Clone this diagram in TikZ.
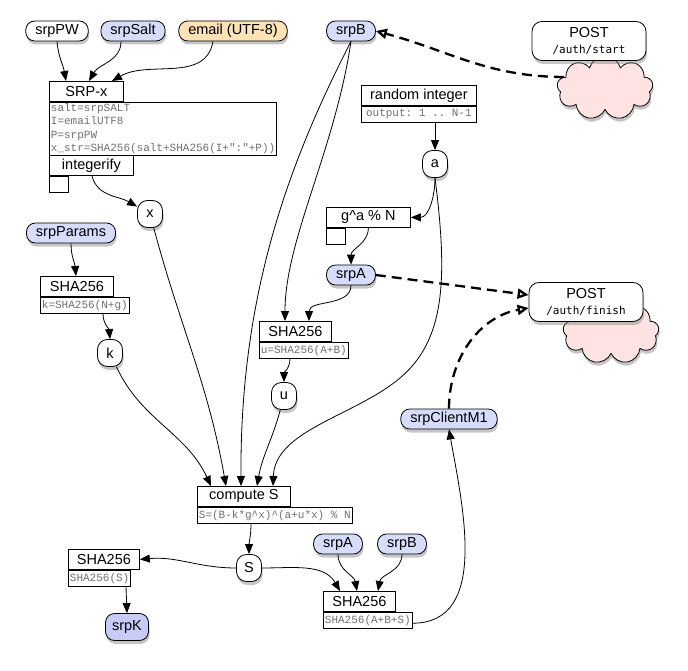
\documentclass[tikz,border=0pt]{standalone}
\usepackage{fontspec}
\setmainfont{Liberation Sans}
\setmonofont{Liberation Mono}
\newfontfamily\pathfont{DejaVu Sans Mono}
\usetikzlibrary{positioning,shapes.symbols,shadows,arrows.meta}
\definecolor{varblue}{HTML}{D6DCFA}
\definecolor{keyblue}{HTML}{C8CAF8}
\definecolor{mailorange}{HTML}{FDE2B6}
\definecolor{cloudpink}{HTML}{FFE3E3}
\definecolor{codegray}{HTML}{707070}

\begin{document}
\begin{tikzpicture}[x=1pt, y=-1pt, line width=0.8pt, >={Triangle[length=10pt,width=8pt]}]
		% styles
		\tikzset{
			shade/.style={drop shadow={opacity=0.45, shadow xshift=1pt, shadow yshift=-3.5pt}},
			base/.style={font=\fontsize{14.5}{17}\selectfont},
			pill/.style={base, draw, shade, fill=varblue, rounded corners=9pt, minimum height=20pt, inner xsep=9.5pt, inner ysep=0pt},
			var/.style={base, draw, shade, fill=white, rounded corners=10pt, minimum width=25pt, minimum height=27pt, inner sep=0pt},
			hdr/.style={base, draw, fill=white, anchor=north west, minimum height=20pt, inner xsep=8pt, inner ysep=0pt},
			body/.style={draw, fill=white, anchor=north west, font=\fontsize{11}{13.5}\selectfont\ttfamily, text=codegray, align=left, minimum height=16pt, inner xsep=1.5pt, inner ysep=1pt},
			stub/.style={draw, anchor=north west, minimum width=19pt, minimum height=16pt, inner sep=0pt},
			post/.style={base, draw, shade, fill=white, rounded corners=10pt, align=center, minimum width=114pt, minimum height=39pt, inner sep=0pt},
			cloudy/.style={cloud, cloud puffs=9, draw, shade, fill=cloudpink, minimum width=96pt, minimum height=64pt},
			net/.style={->, >={Triangle[open, length=11pt, width=10pt]}, line width=2.3pt, dash pattern=on 10pt off 6pt}
		}
		\useasboundingbox (0,0) rectangle (688,671);

		% inputs
		\node[pill, fill=white] (pw) at (57,31) {srpPW};
		\node[pill] (salt) at (133,31) {srpSalt};
		\node[pill, fill=mailorange] (mail) at (233,31) {email (UTF-8)};
		\node[pill] (b) at (351,31) {srpB};

		% server side
		\node[cloudy] (c1) at (605,88) {};
		\node[post] (start) at (589,41) {POST\\[-1pt]{\pathfont\fontsize{11}{13}\selectfont /auth/start}};
		\node[cloudy] (c2) at (611,332) {};
		\node[post] (finish) at (586,302) {POST\\[-1pt]{\pathfont\fontsize{11}{13}\selectfont /auth/finish}};

		% SRP-x
		\node[hdr, minimum width=74pt] (srpx) at (49,81) {SRP-x};
		\node[body] (srpxb) at (srpx.south west) {salt=srpSALT\\I=emailUTF8\\P=srpPW\\x\_str=SHA256(salt+SHA256(I+":"+P))};
		\node[hdr, minimum width=84pt] (intf) at (srpxb.south west) {integerify};
		\node[stub] (intfs) at (intf.south west) {};
		\node[var] (x) at (150,214) {x};

		% random a and A
		\node[hdr, minimum width=115pt] (rnd) at (361,85) {random integer};
		\node[body, minimum width=115pt] (rndb) at (rnd.south west) {output: 1 .. N-1};
		\node[var] (a) at (435,164) {a};
		\node[hdr, minimum width=84pt] (gan) at (326,207) {g\textasciicircum a \% N};
		\node[stub] (gans) at (gan.south west) {};
		\node[pill] (A) at (351,275) {srpA};

		% k and u
		\node[pill] (params) at (71,233) {srpParams};
		\node[hdr, minimum width=73pt] (hk) at (40,276) {SHA256};
		\node[body] (hkb) at (hk.south west) {k=SHA256(N+g)};
		\node[var] (k) at (110,353) {k};
		\node[hdr, minimum width=72pt] (hu) at (259,321) {SHA256};
		\node[body] (hub) at (hu.south west) {u=SHA256(A+B)};
		\node[var] (u) at (284,396) {u};
		\node[pill] (m1) at (449,419) {srpClientM1};

		% S
		\node[hdr, minimum width=93pt] (cs) at (197,486) {compute S};
		\node[body] (csb) at (cs.south west) {S=(B-k*g\textasciicircum x)\textasciicircum(a+u*x) \% N};
		\node[var] (S) at (249,568) {S};
		\node[hdr, minimum width=71pt] (hs) at (68,549) {SHA256};
		\node[body] (hsb) at (hs.south west) {SHA256(S)};
		\node[pill, fill=keyblue, minimum width=43pt, minimum height=27pt, inner xsep=0pt] (K) at (127,627) {srpK};
		\node[pill] (A2) at (338,544) {srpA};
		\node[pill] (B2) at (402,544) {srpB};
		\node[hdr, minimum width=72pt] (habs) at (323,591) {SHA256};
		\node[body] (habsb) at (habs.south west) {SHA256(A+B+S)};

		% connections
		\draw[->] (pw.south) to[out=-85,in=100] ([xshift=17pt]srpx.north west);
		\draw[->] ([xshift=-12pt]salt.south) to[out=-90,in=60] ([xshift=40pt]srpx.north west);
		\draw[->] ([xshift=-20pt]mail.south) to[out=-100,in=30] ([xshift=63pt]srpx.north west);
		\draw[->] ([xshift=43pt]intf.south west) to[out=-75,in=150] (x);

		\draw[->] (rndb.south -| a) -- (a);
		\draw[->] (a.south) to[out=-90,in=0] (gan.east);
		\draw[->] (gan.south) to[out=-90,in=90] (A.north);
		\draw[->] (A.south) to[out=-90,in=90] ([xshift=50pt]hu.north west);
		\draw[->] (b.south) .. controls (335,150) and (285,240) .. ([xshift=26pt]hu.north west);

		\draw[->] (params.south) to[out=-90,in=95] ([xshift=36pt]hk.north west);
		\draw[->] ([xshift=63pt]hkb.south west) to[out=-90,in=95] (k.north);
		\draw[->] ([xshift=31pt]hub.south west) to[out=-90,in=90] (u.north);

		% into compute S
		\draw[->] (k) to[out=-65,in=115] ([xshift=14pt]cs.north west);
		\draw[->] (x) to[out=-75,in=100] ([xshift=29pt]cs.north west);
		\draw[->] (b.south) .. controls (285,170) and (240,300) .. ([xshift=44pt]cs.north west);
		\draw[->] (u) to[out=-105,in=80] ([xshift=60pt]cs.north west);
		\draw[->] (a.south) .. controls (448,280) and (445,340) .. (400,378)
			.. controls (355,416) and (275,430) .. ([xshift=76pt]cs.north west);

		\draw[->] ([xshift=54pt]csb.south west) to[out=-90,in=90] (S.north);
		\draw[->] (S.west) to[out=180,in=5] (hs.east);
		\draw[->] ([xshift=58pt]hsb.south west) -- (K.north);
		\draw[->] (S.east) to[out=0,in=120] ([xshift=17pt]habs.north west);
		\draw[->] (A2.south) to[out=-90,in=100] ([xshift=34pt]habs.north west);
		\draw[->] (B2.south) to[out=-90,in=80] ([xshift=55pt]habs.north west);
		\draw[->] ([yshift=-3pt]habsb.east) to[out=0,in=-80] (m1.south);

		% requests
		\draw[net] (c1.165) to[out=180,in=-15] (b.east);
		\draw[net] (A.east) -- ([yshift=7pt]finish.west);
		\draw[net] (m1.north) to[out=90,in=190] ([yshift=-6pt]finish.west);

\end{tikzpicture}
\end{document}
